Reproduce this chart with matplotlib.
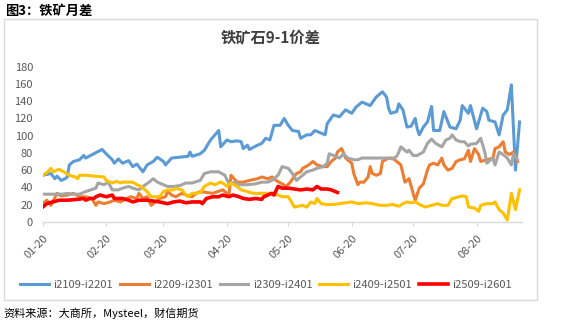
import numpy as np
import matplotlib
matplotlib.use('Agg')
import matplotlib.pyplot as plt
from matplotlib.patches import Rectangle

plt.rcParams['font.family'] = ['Noto Sans CJK SC', 'DejaVu Sans']

# ----------[data: days counted from 01-20]----------

tick_days = [0, 31, 59, 90, 120, 151, 181, 212]
tick_labels = ['01-20', '02-20', '03-20', '04-20', '05-20', '06-20', '07-20', '08-20']

names = ['i2109-i2201', 'i2209-i2301', 'i2309-i2401', 'i2409-i2501', 'i2509-i2601']

d2109 = [0, 4, 6, 7, 9, 11, 12, 13, 15, 18, 20, 21, 25, 29, 31, 34, 35, 37, 39, 42,
         44, 46, 49, 51, 54, 56, 59, 60, 63, 67, 71, 72, 73, 77, 79, 82, 86, 87, 90, 92,
         95, 97, 98, 100, 101, 105, 107, 109, 111, 113, 116, 118, 120, 122, 125, 126, 129, 131, 133, 135,
         138, 139, 142, 145, 148, 151, 153, 156, 158, 160, 163, 166, 168, 169, 170, 173, 174, 176, 178, 180,
         182, 183, 184, 186, 188, 190, 191, 194, 196, 199, 202, 204, 205, 208, 209, 212, 215, 217, 218, 221,
         223, 225, 227, 229, 231, 233]
v2109 = [54, 56, 50, 53, 48, 50, 52, 66, 70, 72, 77, 74, 79, 84, 79, 72, 68, 73, 68, 71,
         64, 67, 58, 66, 70, 75, 70, 66, 74, 75, 76, 81, 76, 79, 83, 95, 106, 87, 95, 93,
         94, 93, 85, 89, 84, 89, 91, 97, 95, 112, 112, 120, 112, 106, 105, 97, 101, 101, 106, 104,
         101, 114, 124, 122, 130, 126, 133, 139, 137, 135, 145, 151, 145, 132, 126, 128, 137, 130, 110, 111,
         120, 108, 101, 110, 116, 134, 106, 106, 128, 110, 108, 118, 135, 126, 135, 108, 132, 128, 118, 116,
         101, 124, 130, 159, 60, 116]

d2209 = [0, 2, 4, 7, 9, 12, 15, 18, 21, 24, 26, 27, 30, 33, 35, 38, 41, 43, 46, 47,
         49, 51, 53, 55, 57, 60, 61, 63, 65, 68, 70, 73, 75, 77, 83, 88, 91, 92, 95, 98,
         101, 105, 107, 110, 112, 114, 117, 119, 121, 124, 126, 127, 130, 132, 134, 137, 139, 141, 143, 144,
         146, 147, 148, 151, 152, 154, 155, 157, 159, 160, 161, 163, 165, 166, 169, 171, 173, 175, 177, 179,
         181, 182, 184, 186, 188, 189, 191, 193, 195, 196, 198, 200, 202, 204, 206, 208, 209, 211, 213, 214,
         217, 220, 221, 223, 225, 226, 228, 230, 231, 232]
v2209 = [21, 25, 19, 33, 30, 31, 33, 29, 29, 27, 19, 23, 21, 23, 25, 23, 27, 29, 27, 33,
         27, 29, 19, 23, 27, 29, 35, 31, 29, 33, 31, 29, 33, 35, 33, 37, 31, 54, 46, 46,
         48, 50, 52, 50, 52, 48, 44, 41, 46, 56, 58, 62, 66, 70, 66, 64, 64, 70, 74, 81,
         85, 80, 74, 68, 56, 43, 46, 46, 52, 64, 56, 54, 56, 70, 74, 74, 70, 66, 46, 50,
         33, 25, 39, 44, 60, 66, 68, 66, 74, 66, 60, 62, 70, 72, 73, 83, 70, 85, 78, 70,
         72, 74, 85, 87, 93, 81, 78, 81, 76, 70]

d2309 = [0, 4, 7, 10, 12, 14, 18, 21, 26, 27, 30, 32, 34, 37, 39, 42, 44, 47, 49, 52,
         54, 56, 59, 61, 64, 67, 70, 73, 77, 79, 82, 86, 89, 91, 94, 96, 100, 104, 107, 110,
         112, 115, 117, 120, 122, 124, 126, 129, 132, 134, 137, 139, 140, 143, 145, 147, 149, 152, 154, 156,
         161, 165, 168, 171, 173, 174, 175, 178, 179, 181, 183, 186, 188, 190, 192, 195, 197, 199, 200, 202,
         204, 206, 208, 209, 212, 214, 216, 217, 220, 221, 223, 225, 227, 229, 230, 232]
v2309 = [32, 32, 32, 32, 33, 32, 32, 35, 39, 45, 43, 46, 37, 37, 39, 41, 39, 37, 41, 46,
         50, 46, 43, 41, 41, 42, 45, 45, 48, 56, 58, 58, 54, 44, 46, 43, 43, 44, 46, 46,
         48, 54, 64, 62, 56, 48, 52, 58, 60, 62, 64, 68, 79, 76, 74, 79, 74, 72, 72, 74,
         74, 74, 74, 73, 76, 81, 87, 81, 83, 77, 77, 81, 91, 96, 91, 87, 95, 97, 101, 95,
         93, 93, 88, 90, 91, 97, 81, 68, 74, 66, 81, 78, 74, 66, 79, 72]

d2409 = [0, 2, 4, 5, 7, 8, 11, 13, 16, 17, 18, 21, 25, 30, 31, 34, 36, 38, 39, 42,
         44, 46, 48, 51, 53, 55, 57, 59, 61, 64, 65, 68, 70, 71, 73, 75, 77, 79, 82, 84,
         87, 88, 90, 92, 95, 97, 100, 103, 106, 107, 111, 115, 117, 120, 121, 123, 125, 127, 129, 131,
         133, 134, 136, 139, 142, 145, 148, 151, 154, 158, 161, 165, 168, 171, 174, 176, 178, 180, 182, 185,
         187, 190, 193, 195, 198, 200, 202, 205, 207, 208, 211, 213, 214, 217, 220, 221, 223, 225, 227, 229,
         231, 233]
v2409 = [54, 57, 62, 58, 60, 61, 57, 54, 52, 50, 54, 54, 53, 52, 48, 45, 47, 45, 46, 46,
         46, 43, 41, 35, 29, 29, 29, 35, 37, 37, 39, 37, 31, 29, 33, 33, 34, 41, 45, 43,
         46, 45, 41, 45, 41, 37, 35, 33, 33, 33, 33, 31, 29, 29, 25, 17, 18, 19, 17, 23,
         21, 27, 21, 20, 20, 21, 22, 23, 21, 22, 21, 19, 19, 20, 18, 21, 23, 22, 23, 19,
         17, 19, 21, 19, 19, 27, 28, 30, 29, 17, 16, 12, 19, 21, 21, 23, 14, 10, 2, 33,
         14, 37]

d2509 = [0, 2, 5, 8, 12, 17, 20, 21, 23, 25, 26, 28, 31, 34, 35, 39, 42, 44, 47, 51,
         54, 57, 61, 64, 67, 70, 73, 77, 78, 80, 83, 86, 88, 91, 93, 96, 98, 101, 104, 107,
         108, 110, 112, 113, 115, 117, 120, 123, 126, 129, 132, 134, 136, 139, 141, 143, 144]
v2509 = [17, 21, 23, 25, 25, 26, 27, 25, 27, 27, 29, 31, 29, 31, 27, 27, 25, 23, 25, 25,
         24, 23, 21, 23, 24, 22, 23, 23, 21, 27, 29, 29, 31, 29, 31, 29, 27, 26, 27, 26,
         29, 31, 33, 31, 41, 39, 39, 38, 37, 38, 37, 41, 38, 38, 37, 35, 34]

colors = ['#5B9BD5', '#ED7D31', '#A5A5A5', '#FFC000', '#FF0000']
widths = [2.2, 2.2, 2.2, 2.2, 2.6]

# ----------[figure]----------

fig = plt.figure(figsize=(5.77, 3.24), dpi=100)
ax = fig.add_axes([0.074, 0.3157, 0.830, 0.478])

series = [(d2109, v2109), (d2209, v2209), (d2309, v2309), (d2409, v2409), (d2509, v2509)]
for (d, v), name, c, w in zip(series, names, colors, widths):
    ax.plot(d, v, color=c, lw=w, label=name, solid_joinstyle='round')

ax.set_xlim(0, 234)
ax.set_ylim(0, 180)
ax.set_yticks(range(0, 181, 20))
ax.set_xticks(tick_days)
ax.set_xticklabels(tick_labels, rotation=45, ha='right', va='top', rotation_mode='anchor')

for s in ['top', 'right', 'left']:
    ax.spines[s].set_visible(False)
ax.spines['bottom'].set_color('#D9D9D9')
ax.spines['bottom'].set_linewidth(1.0)
ax.tick_params(axis='y', length=0, pad=7, labelsize=8, labelcolor='#595959')
ax.tick_params(axis='x', length=3, width=0.8, color='#D9D9D9', pad=5, labelsize=8, labelcolor='#595959')

# outer chart frame
fig.patches.append(Rectangle((0.0075, 0.074), 0.924, 0.867, transform=fig.transFigure,
                             fill=False, edgecolor='#D9D9D9', lw=1.0))

fig.text(0.008, 0.966, '图3：铁矿月差', fontsize=9.5, fontweight='bold', ha='left', va='center')
fig.text(0.469, 0.881, '铁矿石9-1价差', fontsize=11, fontweight='bold', color='#404040',
         ha='center', va='center')
fig.text(0.006, 0.034, '资料来源：大商所，Mysteel，财信期货', fontsize=8, style='italic',
         ha='left', va='center')

fig.legend(loc='center', bbox_to_anchor=(0.461, 0.120), ncol=5, frameon=False,
           fontsize=8, handlelength=2.6, handletextpad=0.4, columnspacing=0.6,
           labelcolor='#595959')

fig.savefig('out.png', dpi=100)
